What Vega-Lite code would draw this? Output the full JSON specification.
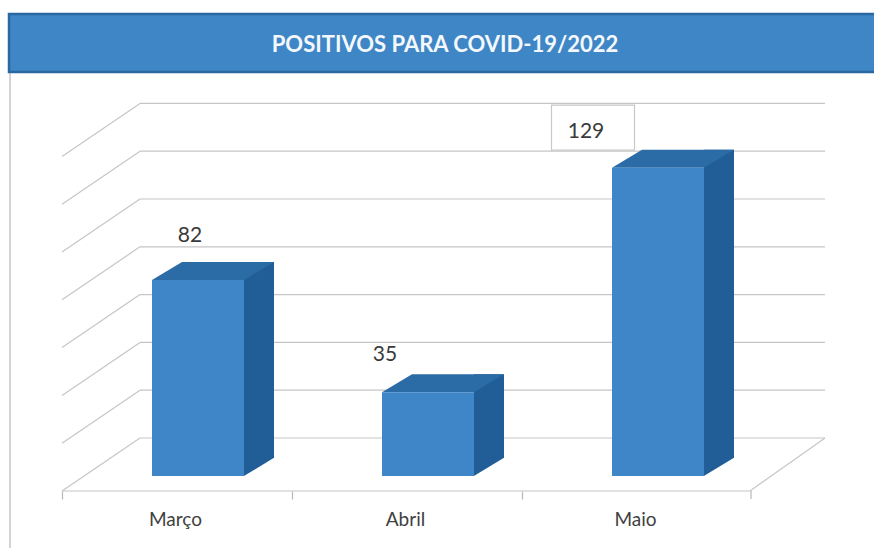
{
  "$schema": "https://vega.github.io/schema/vega-lite/v6.json",
  "autosize": {"type": "none"},
  "padding": 0,
  "width": 874,
  "height": 548,
  "background": "#ffffff",
  "config": {"view": {"stroke": null}, "font": "Lato"},
  "datasets": {
    "meses": [
      {"mes": "Março", "casos": 82},
      {"mes": "Abril", "casos": 35},
      {"mes": "Maio", "casos": 129}
    ],
    "grade": [
      {"v": 0}, {"v": 20}, {"v": 40}, {"v": 60}, {"v": 80}, {"v": 100}, {"v": 120}, {"v": 140}
    ],
    "titulo": [{"texto": "POSITIVOS PARA COVID-19/2022"}]
  },
  "layer": [
    {
      "data": {"name": "titulo"},
      "mark": {"type": "rule", "color": "#c4c4c4", "strokeWidth": 1.5},
      "encoding": {"x": {"value": 10}, "y": {"value": 72}, "y2": {"value": 548}}
    },
    {
      "data": {"name": "titulo"},
      "mark": {"type": "rect", "fill": "#3f86c6", "stroke": "#2b67a0", "strokeWidth": 2.5},
      "encoding": {"x": {"value": 9}, "x2": {"value": 890}, "y": {"value": 14}, "y2": {"value": 72}}
    },
    {
      "data": {"name": "titulo"},
      "mark": {"type": "text", "color": "#f4f8fc", "fontSize": 22, "fontWeight": "bold", "align": "center", "baseline": "middle"},
      "encoding": {"x": {"value": 445}, "y": {"value": 45}, "text": {"field": "texto"}}
    },
    {
      "data": {"name": "grade"},
      "mark": {"type": "rule", "color": "#c6c6c6", "strokeWidth": 1.2, "yOffset": -38},
      "encoding": {
        "x": {"value": 140}, "x2": {"value": 825},
        "y": {"field": "v", "type": "quantitative", "scale": {"domain": [0, 160], "range": [476, 93.6], "nice": false}, "axis": null}
      }
    },
    {
      "data": {"name": "grade"},
      "mark": {"type": "rule", "color": "#c6c6c6", "strokeWidth": 1.2, "yOffset": 15, "y2Offset": -38},
      "encoding": {
        "x": {"value": 62}, "x2": {"value": 140},
        "y": {"field": "v", "type": "quantitative"},
        "y2": {"field": "v"}
      }
    },
    {
      "data": {"name": "titulo"},
      "mark": {"type": "rule", "color": "#c6c6c6", "strokeWidth": 1.2, "yOffset": 15},
      "encoding": {"x": {"value": 62}, "x2": {"value": 750}, "y": {"datum": 0, "type": "quantitative"}}
    },
    {
      "data": {"name": "titulo"},
      "mark": {"type": "rule", "color": "#c6c6c6", "strokeWidth": 1.2, "yOffset": 15, "y2Offset": -38},
      "encoding": {"x": {"value": 750}, "x2": {"value": 825}, "y": {"datum": 0, "type": "quantitative"}, "y2": {"datum": 0}}
    },
    {
      "data": {"name": "titulo"},
      "mark": {"type": "rule", "color": "#b8b8b8", "strokeWidth": 1.2, "yOffset": 15, "y2Offset": 23},
      "encoding": {"x": {"value": 751}, "y": {"datum": 0, "type": "quantitative"}, "y2": {"datum": 0}}
    },
    {
      "data": {"name": "meses"},
      "mark": {"type": "bar", "color": "#215d96", "width": 30, "xOffset": 61, "yOffset": -18},
      "encoding": {
        "x": {
          "field": "mes", "type": "nominal", "sort": ["Março", "Abril", "Maio"],
          "scale": {"type": "band", "domain": ["Março", "Abril", "Maio"], "range": [83, 773], "paddingInner": 0.6, "paddingOuter": 0.3},
          "axis": {
            "title": null, "orient": "bottom", "offset": -57, "domain": false, "grid": false,
            "bandPosition": 0, "tickOffset": -90, "tickExtra": false, "labelOffset": 67,
            "tickSize": 8, "tickColor": "#b8b8b8", "tickWidth": 1.2,
            "labelFont": "Lato", "labelFontSize": 19, "labelColor": "#404040", "labelPadding": 11, "labelAngle": 0
          }
        },
        "y": {"field": "casos", "type": "quantitative"}
      }
    },
    {
      "data": {"name": "meses"},
      "mark": {"type": "point", "shape": "M0.745 0.005 L0.745 -0.3 L1.2459 -0.3 Z", "size": 14884, "filled": true, "fill": "#215d96", "opacity": 1, "strokeWidth": 0},
      "encoding": {
        "x": {"field": "mes", "type": "nominal"},
        "y": {"datum": 0, "type": "quantitative"}
      }
    },
    {
      "data": {"name": "meses"},
      "mark": {"type": "point", "shape": "M-0.7541 0 L0.7541 0 L1.2459 -0.2951 L-0.2623 -0.2951 Z", "size": 14884, "filled": true, "fill": "#2b6ba6", "opacity": 1, "strokeWidth": 0},
      "encoding": {
        "x": {"field": "mes", "type": "nominal"},
        "y": {"field": "casos", "type": "quantitative"}
      }
    },
    {
      "data": {"name": "meses"},
      "mark": {"type": "bar", "color": "#3f86c8"},
      "encoding": {
        "x": {"field": "mes", "type": "nominal"},
        "y": {"field": "casos", "type": "quantitative"}
      }
    },
    {
      "data": {"name": "meses"},
      "transform": [{"filter": "datum.mes == 'Março'"}],
      "mark": {"type": "text", "fontSize": 21, "color": "#3a3a3a", "dx": -8, "dy": -44, "align": "center", "baseline": "middle"},
      "encoding": {
        "x": {"field": "mes", "type": "nominal"},
        "y": {"field": "casos", "type": "quantitative"},
        "text": {"field": "casos", "type": "quantitative"}
      }
    },
    {
      "data": {"name": "meses"},
      "transform": [{"filter": "datum.mes == 'Abril'"}],
      "mark": {"type": "text", "fontSize": 21, "color": "#3a3a3a", "dx": -43, "dy": -37, "align": "center", "baseline": "middle"},
      "encoding": {
        "x": {"field": "mes", "type": "nominal"},
        "y": {"field": "casos", "type": "quantitative"},
        "text": {"field": "casos", "type": "quantitative"}
      }
    },
    {
      "data": {"name": "meses"},
      "transform": [{"filter": "datum.mes == 'Maio'"}],
      "mark": {"type": "point", "shape": "M-1 -0.542 L1 -0.542 L1 0.542 L-1 0.542 Z", "size": 6889, "filled": false, "fill": "#ffffff", "fillOpacity": 1, "stroke": "#c8c8c8", "strokeWidth": 1.2, "opacity": 1, "xOffset": -65, "yOffset": -40},
      "encoding": {
        "x": {"field": "mes", "type": "nominal"},
        "y": {"field": "casos", "type": "quantitative"}
      }
    },
    {
      "data": {"name": "meses"},
      "transform": [{"filter": "datum.mes == 'Maio'"}],
      "mark": {"type": "text", "fontSize": 21, "color": "#3a3a3a", "dx": -72, "dy": -36, "align": "center", "baseline": "middle"},
      "encoding": {
        "x": {"field": "mes", "type": "nominal"},
        "y": {"field": "casos", "type": "quantitative"},
        "text": {"field": "casos", "type": "quantitative"}
      }
    }
  ]
}
